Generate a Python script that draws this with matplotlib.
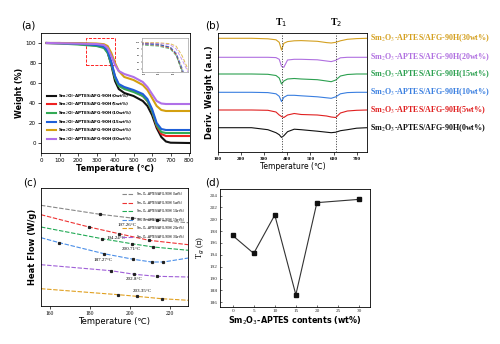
import numpy as np
import matplotlib.pyplot as plt
from matplotlib.patches import Rectangle

# ---- (a) TGA ----
tga_t = [30, 100, 200, 300, 340, 360, 380, 400, 420, 450, 500, 550, 575, 600, 625, 650, 675, 700, 800]
tga = {
    '0wt%':  [100, 100, 99.6, 98.5, 96, 91, 78, 62, 54, 50, 47, 42, 37, 28, 15, 6, 1.5, 0.3, 0],
    '5wt%':  [100, 99.8, 99, 97.5, 95.5, 91, 80, 66, 58, 55, 52, 47, 42, 32, 17, 9, 7, 7, 7],
    '10wt%': [100, 99.5, 98.5, 97, 95, 90, 79, 65, 57, 54, 51, 47, 42, 32, 18, 11, 10, 10, 10],
    '15wt%': [100, 99.8, 99.2, 98, 96.5, 92, 81, 67, 59, 56, 53, 49, 44, 34, 20, 14, 13, 13, 13],
    '20wt%': [100, 100, 99.9, 99.5, 98.8, 97, 90, 80, 72, 66, 63, 58, 53, 45, 37, 33, 32, 32, 32],
    '30wt%': [100, 99.8, 99.5, 99, 98, 95, 87, 78, 72, 69, 66, 61, 56, 49, 42, 39.5, 39, 39, 39],
}
tga_colors = ['#111111', '#ee2222', '#33aa55', '#1f5fd8', '#d4a010', '#b070e8']

# ---- (b) DTG (depth below each baseline, a.u.) ----
dtg_t = [100, 245, 316, 351, 365, 375, 385, 401, 430, 460, 530, 570, 590, 610, 630, 660, 700, 745]
dtg_names = ['30wt%', '20wt%', '15wt%', '10wt%', '5wt%', '0wt%']
dtg_base = [38.3, 57.3, 74, 92.3, 110, 127.7]
dtg_depth = [
    [0, 0, 0.5, 1.5, 4, 11.7, 5, 3.3, 2.5, 2.3, 3, 4.3, 4.7, 4, 2.5, 1, 0.3, 0],
    [0, 0, 0, 0.3, 2, 9, 10, 2.7, 2, 2, 2.5, 3.7, 4.3, 3, 0.5, 0, 0, 0],
    [0, 0, 0.3, 1.5, 4, 10, 7, 5, 4.5, 5, 5.7, 7, 7.7, 6, 2, 0.5, 0, 0],
    [0, 0, 0.3, 1.5, 4, 9.3, 5, 3, 3, 3.5, 4.5, 5.5, 6, 4.5, 1.5, 0.3, 0, 0],
    [0, 0, 0.3, 2, 5, 6.5, 7.5, 5, 3.5, 4.5, 5, 6, 7, 7.5, 3, 1, 0.3, 0],
    [0, 0, 2, 5, 7, 9.7, 8, 4, 1.5, 2, 3.5, 4.5, 5, 4.5, 3, 2, 0.5, 0],
]
dtg_colors = ['#d4a020', '#b070e0', '#2ca050', '#3a7fe0', '#e02020', '#111111']
T1, T2 = 375, 610

# ---- (c) DSC ----
dsc_names = ['0wt%', '5wt%', '10wt%', '15wt%', '20wt%', '30wt%']
dsc_colors = ['#888888', '#ee3333', '#22aa55', '#4a8ee8', '#e0a020', '#a060d8']
dsc_t = [
    [155.5, 185, 200.8, 213.3, 229.2],
    [155.5, 179.5, 194.5, 209.5, 229.2],
    [155.5, 186, 200.8, 211.7, 229.2],
    [155.5, 164.7, 187, 201.7, 210.8, 216.7, 229.2],
    [155.5, 194.2, 203.3, 215.8, 229.2],
    [155.5, 190.5, 202.2, 213.3, 229.2],
]
dsc_v = [
    [-205.3, -214.3, -218, -220.3, -222.7],
    [-214.7, -227, -233.7, -240.3, -244.7],
    [-227, -238.7, -243.7, -247, -250.3],
    [-237.7, -242.7, -253.7, -259.3, -262, -262, -258],
    [-288.7, -294.7, -296.3, -298.7, -300.3],
    [-264.7, -270.7, -274.3, -276.3, -277],
]
tg_labels = ['197.26°C', '194.24°C', '200.71°C', '187.27°C', '203.35°C', '202.8°C']
tg_pos = [(198.5, -225), (193, -238), (200.8, -249), (186.5, -260), (206.2, -291), (202, -279)]

# ---- (d) Tg vs content ----
content = [0, 5, 10, 15, 20, 30]
tg = [197.26, 194.24, 200.71, 187.27, 202.8, 203.35]

fig = plt.figure(figsize=(5, 3.44), dpi=100)
serif = 'Liberation Serif'

def px(x0, y0, x1, y1):
    return [x0 / 500, 1 - y1 / 344, (x1 - x0) / 500, (y1 - y0) / 344]

# (a)
ax = fig.add_axes(px(41, 33, 190, 153))
for (name, vals), c in zip(tga.items(), tga_colors):
    ax.plot(tga_t, vals, color=c, lw=1.5, label='Sm$_2$O$_3$-APTES/AFG-90H(' + name + ')')
ax.set_xlim(0, 805)
ax.set_ylim(-10, 110)
ax.set_xticks(range(0, 801, 100))
ax.set_yticks(range(0, 101, 20))
ax.tick_params(labelsize=4, length=2, width=0.5, pad=1.5)
ax.set_xlabel('Temperature (℃)', fontsize=5.8, fontweight='bold', labelpad=1)
ax.set_ylabel('Weight (%)', fontsize=5.8, fontweight='bold', labelpad=1)
ax.add_patch(Rectangle((245, 78), 155, 27, fill=False, ec='red', ls='--', lw=0.6))
ax.legend(loc='lower left', frameon=False, handlelength=2.2, handletextpad=0.5,
          bbox_to_anchor=(0.03, 0.07), labelspacing=0.35, borderaxespad=0,
          prop={'weight': 'bold', 'size': 3.0})
for s in ax.spines.values():
    s.set_linewidth(0.6)
fig.text(28 / 500, 1 - 25 / 344, '(a)', fontsize=7.5, ha='center', va='center')

ins = fig.add_axes(px(142, 38, 188, 72))
for (name, vals), c in zip(tga.items(), tga_colors):
    ins.plot(tga_t, vals, color=c, lw=0.7, ls='--', alpha=0.7)
ins.set_xlim(245, 400)
ins.set_ylim(78, 103)
ins.set_xticks([250, 300, 350])
ins.set_yticks([80, 85, 90, 95, 100])
ins.tick_params(labelsize=1.6, length=1, width=0.3, pad=0.4)
for s in ins.spines.values():
    s.set_linewidth(0.4)
    s.set_color('#888888')

# (b)
bx = fig.add_axes(px(218, 33, 367, 152))
for base, d, c in zip(dtg_base, dtg_depth, dtg_colors):
    bx.plot(dtg_t, -(base + np.array(d)), color=c, lw=0.8)
bx.axvline(T1, color='#333333', ls=':', lw=0.7)
bx.axvline(T2, color='#333333', ls=':', lw=0.7)
bx.set_xlim(100, 745)
bx.set_ylim(-152, -33)
bx.set_yticks([])
bx.set_xticks(range(100, 701, 100))
bx.tick_params(labelsize=3.8, length=2, width=0.5, pad=1.5)
for lab in bx.get_xticklabels():
    lab.set_fontfamily(serif)
    lab.set_fontweight('bold')
bx.set_xlabel('Temperature (℃)', fontsize=5.5, labelpad=1)
bx.set_ylabel('Deriv. Weight (a.u.)', fontsize=6, fontweight='bold', labelpad=3)
for s in bx.spines.values():
    s.set_linewidth(0.6)
bx.text(T1, 1.03, 'T$_1$', transform=bx.get_xaxis_transform(), ha='center', va='bottom',
        fontsize=7, fontfamily=serif, fontweight='bold')
bx.text(T2, 1.03, 'T$_2$', transform=bx.get_xaxis_transform(), ha='center', va='bottom',
        fontsize=7, fontfamily=serif, fontweight='bold')
for base, name, c in zip(dtg_base, dtg_names, dtg_colors):
    fig.text(370 / 500, 1 - base / 344, 'Sm$_2$O$_3$-APTES/AFG-90H(' + name + ')',
             color=c, fontsize=5.8, fontfamily=serif, fontweight='bold', va='center',
             math_fontfamily='stix')
fig.text(212 / 500, 1 - 25 / 344, '(b)', fontsize=7.5, ha='center', va='center')

# (c)
cx = fig.add_axes(px(41, 188, 188, 306))
for t, v, c, name in zip(dsc_t, dsc_v, dsc_colors, dsc_names):
    cx.plot(t, v, color=c, lw=0.8, ls=(0, (4, 1.5)),
            label='Sm$_2$O$_3$-APTES/AFG-90H(' + name + ')')
    cx.plot(t[1:-1], v[1:-1], ls='none', marker='s', ms=1.3, color='#222222')
for txt, (x, y) in zip(tg_labels, tg_pos):
    cx.text(x, y, txt, fontsize=3.6, fontfamily=serif, ha='center', va='center')
cx.set_xlim(155.5, 229)
cx.set_ylim(-306, -188)
cx.set_yticks([])
cx.set_xticks([160, 180, 200, 220])
cx.tick_params(labelsize=4, length=2, width=0.5, pad=1.5)
for lab in cx.get_xticklabels():
    lab.set_fontfamily(serif)
cx.set_xlabel('Temperature (℃)', fontsize=6, labelpad=1)
cx.set_ylabel('Heat Flow (W/g)', fontsize=6, fontweight='bold', labelpad=3)
cx.legend(loc='upper right', fontsize=2.2, frameon=False, handlelength=4, labelspacing=0.3,
          borderaxespad=0.4)
for s in cx.spines.values():
    s.set_linewidth(0.6)
fig.text(30 / 500, 1 - 183 / 344, '(c)', fontsize=7.5, ha='center', va='center')

# (d)
dx = fig.add_axes(px(220, 189, 370, 307))
dx.plot(content, tg, color='#333333', lw=0.8, marker='s', ms=2.5, mfc='#111111', mec='#111111')
dx.set_xlim(-3, 32.6)
dx.set_ylim(185.2, 205.1)
dx.set_xticks(range(0, 31, 5))
dx.set_yticks(range(186, 205, 2))
dx.tick_params(labelsize=3.8, length=1.5, width=0.5, pad=1.5, direction='in', colors='#333333')
for lab in dx.get_xticklabels() + dx.get_yticklabels():
    lab.set_fontfamily(serif)
dx.set_xlabel('Sm$_2$O$_3$-APTES contents (wt%)', fontsize=5.8, fontweight='bold', labelpad=1)
dx.set_ylabel('T$_g$ (℃)', fontsize=6, fontfamily=[serif, 'DejaVu Sans'], labelpad=2)
for s in dx.spines.values():
    s.set_linewidth(0.6)
fig.text(212 / 500, 1 - 183 / 344, '(d)', fontsize=7.5, ha='center', va='center')

fig.savefig('out.png', dpi=100)
